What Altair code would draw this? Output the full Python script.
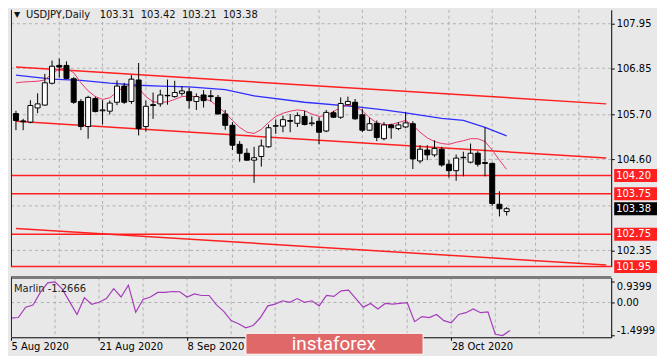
import altair as alt
import pandas as pd

# ---------------- data ----------------
symbol = "USDJPY"
timeframe = "Daily"

opens = [105.73, 105.55, 105.52, 105.87, 105.94, 106.48, 106.92, 106.92, 106.59, 106.03,
         105.41, 106.10, 105.80, 105.79, 106.01, 106.41, 106.03, 106.56, 105.41, 105.95,
         105.97, 106.18, 106.15, 106.23, 106.27, 106.03, 106.19, 106.17, 106.13, 105.72,
         105.44, 104.97, 104.75, 104.58, 104.67, 104.91, 105.43, 105.42, 105.56, 105.49,
         105.66, 105.48, 105.54, 105.30, 105.75, 105.64, 105.95, 106.01, 105.70, 105.32,
         105.49, 105.11, 105.45, 105.36, 105.40, 105.48, 104.56, 104.83, 104.71, 104.85,
         104.48, 104.32, 104.65, 104.53, 104.75, 104.52, 104.50, 103.49, 103.31]
highs = [105.80, 105.60, 106.06, 106.23, 106.71, 107.04, 107.09, 107.02, 106.63, 106.09,
         106.17, 106.15, 106.06, 106.05, 106.55, 106.49, 106.68, 106.98, 106.05, 106.25,
         106.32, 106.57, 106.54, 106.41, 106.37, 106.23, 106.31, 106.31, 106.19, 105.82,
         105.52, 105.05, 104.87, 104.91, 105.09, 105.46, 105.58, 105.68, 105.72, 105.76,
         105.80, 105.66, 105.64, 105.82, 105.80, 106.13, 106.15, 106.09, 105.85, 105.63,
         105.56, 105.52, 105.48, 105.52, 105.76, 105.54, 104.95, 104.95, 105.07, 104.91,
         104.58, 104.72, 104.79, 104.99, 104.80, 105.39, 104.52, 103.81, 103.42]
lows = [105.32, 105.32, 105.49, 105.74, 105.93, 106.45, 106.62, 106.58, 105.97, 105.32,
        105.11, 105.76, 105.46, 105.71, 105.94, 105.97, 105.97, 105.19, 105.29, 105.60,
        105.90, 105.95, 106.12, 106.17, 105.85, 105.82, 105.88, 106.03, 105.71, 105.33,
        104.83, 104.54, 104.57, 104.02, 104.42, 104.89, 105.23, 105.27, 105.27, 105.40,
        105.44, 105.42, 104.97, 105.27, 105.63, 105.60, 105.93, 105.58, 105.27, 105.30,
        105.05, 105.07, 105.11, 105.32, 105.37, 104.36, 104.50, 104.58, 104.66, 104.42,
        104.15, 104.07, 104.18, 104.50, 104.42, 104.18, 103.45, 103.19, 103.21]
closes = [105.56, 105.53, 105.93, 105.97, 106.49, 106.90, 106.88, 106.60, 106.01, 105.41,
          106.13, 105.78, 105.82, 105.99, 106.41, 106.01, 106.58, 105.36, 105.91, 105.93,
          106.19, 106.17, 106.25, 106.29, 106.05, 106.15, 106.05, 106.15, 105.72, 105.44,
          104.95, 104.75, 104.58, 104.64, 104.93, 105.38, 105.42, 105.58, 105.54, 105.68,
          105.46, 105.50, 105.27, 105.76, 105.64, 105.98, 106.03, 105.60, 105.32, 105.48,
          105.14, 105.45, 105.38, 105.45, 105.50, 104.61, 104.85, 104.71, 104.87, 104.46,
          104.32, 104.63, 104.64, 104.75, 104.48, 104.50, 103.51, 103.38, 103.38]

fast_ma = [106.49, 106.51, 106.52, 106.53, 106.56, 106.72, 106.83, 106.85, 106.74, 106.49,
           106.29, 106.15, 106.08, 106.12, 106.27, 106.39, 106.44, 106.36, 106.15, 106.02,
           106.01, 106.02, 106.08, 106.15, 106.16, 106.15, 106.10, 106.04, 105.90, 105.75,
           105.56, 105.39, 105.27, 105.24, 105.34, 105.51, 105.66, 105.74, 105.79, 105.82,
           105.80, 105.72, 105.66, 105.68, 105.78, 105.88, 105.94, 105.91, 105.80, 105.63,
           105.50, 105.46, 105.46, 105.51, 105.56, 105.44, 105.27, 105.13, 105.04, 104.99,
           104.97, 105.02, 105.06, 105.11, 105.11, 105.04, 104.83, 104.58, 104.35]

slow_ma_bars = [0, 5, 9, 13, 17, 20, 24, 29, 33, 40, 47, 51, 54, 59, 62, 65, 68]
slow_ma_vals = [106.68, 106.58, 106.55, 106.48, 106.43, 106.41, 106.39, 106.32, 106.17,
                106.01, 105.90, 105.82, 105.75, 105.61, 105.56, 105.39, 105.18]

marlin = [-0.71, -0.68, -0.21, -0.11, 0.46, 0.89, 0.9399, 0.61, 0.03, -0.54,
          0.22, -0.08, 0.01, 0.18, 0.63, 0.25, 0.79, -0.44, 0.14, 0.25,
          0.46, 0.46, 0.50, 0.49, 0.25, 0.39, 0.32, 0.32, -0.11, -0.40,
          -0.82, -0.96, -1.15, -1.04, -0.68, -0.15, -0.07, 0.08, 0.01, 0.18,
          0.01, 0.08, -0.15, 0.32, 0.28, 0.53, 0.56, 0.18, -0.21, -0.04,
          -0.29, -0.04, -0.07, -0.04, -0.01, -0.87, -0.64, -0.68, -0.54, -0.82,
          -0.92, -0.54, -0.46, -0.29, -0.46, -0.42, -1.44, -1.4999, -1.2666]

channel_names = ["upper", "middle", "lower"]
channel_bars = [0, 81.8]
channel_start = [106.88, 105.54, 102.89]
channel_end = [105.97, 104.63, 101.99]

level_prices = [104.20, 103.75, 102.75, 101.95]

price_labels = [107.95, 106.85, 105.70, 104.60, 102.35]
price_grid = [107.95, 106.85, 105.70, 104.60, 103.45, 102.35]
bar_grid = [6, 12, 18, 24, 30, 36, 42, 48, 54, 60, 66, 72, 78]
marlin_grid = [0.0]

# date labels visible in the reference (the ones under the watermark are hidden)
date_ticks = [0, 12, 24, 60]
date_labels = ["5 Aug 2020", "21 Aug 2020", "8 Sep 2020", "28 Oct 2020"]

watermark = "instaforex"

# ---------------- layout / style ----------------
W = 603
H_MAIN = 258
H_IND = 60
X_MAX = 81.8
Y_MIN, Y_MAX = 101.95, 108.294
M_LO, M_HI = -1.577, 1.133
FONT = "DejaVu Sans"
BG = "#e8e8e8"
GRID = "#b0b0b0"
RED = "#ff2020"
NB = "\u00a0"

bars = list(range(len(opens)))
candles = pd.DataFrame({"i": bars, "open": opens, "high": highs,
                        "low": lows, "close": closes})
fast_df = pd.DataFrame({"i": bars, "v": fast_ma})
slow_df = pd.DataFrame({"i": slow_ma_bars, "v": slow_ma_vals})
rows = []
for n, a, b in zip(channel_names, channel_start, channel_end):
    rows.append({"name": n, "i": channel_bars[0], "p": a})
    rows.append({"name": n, "i": channel_bars[1], "p": b})
chan_df = pd.DataFrame(rows)

xs = alt.Scale(domain=[0, X_MAX], nice=False, zero=False)
ys = alt.Scale(domain=[Y_MIN, Y_MAX], nice=False, zero=False)
y_axis = alt.Axis(orient="right", values=price_labels, format=".2f", grid=False,
                  tickSize=3, tickColor="#000", domainColor="#000",
                  labelFont=FONT, labelFontSize=10, labelColor="#000",
                  labelPadding=2, title=None)


def X(f):
    return alt.X(f, type="quantitative", scale=xs, axis=None)


def Y(f):
    return alt.Y(f, type="quantitative", scale=ys, axis=y_axis)


hgrid = alt.Chart(pd.DataFrame({"p": price_grid})).mark_rule(
    color=GRID, strokeDash=[3, 3], strokeWidth=1).encode(y=Y("p"))
vgrid = alt.Chart(pd.DataFrame({"i": bar_grid})).mark_rule(
    color=GRID, strokeDash=[3, 3], strokeWidth=1).encode(x=X("i"))
chan = alt.Chart(chan_df).mark_line(color=RED, strokeWidth=1.5).encode(
    x=X("i"), y=Y("p"), detail="name:N")
levels = alt.Chart(pd.DataFrame({"p": level_prices})).mark_rule(
    color=RED, strokeWidth=1.5).encode(y=Y("p"))
slow = alt.Chart(slow_df).mark_line(color="#2f2fff", strokeWidth=1.3).encode(
    x=X("i"), y=Y("v"))
fast = alt.Chart(fast_df).mark_line(color="#e8386a", strokeWidth=1).encode(
    x=X("i"), y=Y("v"))
wicks = alt.Chart(candles).mark_rule(color="#000", strokeWidth=1, clip=True).encode(
    x=X("i"), y=Y("low"), y2="high:Q")
bodies = alt.Chart(candles).mark_bar(size=5, stroke="#000", strokeWidth=1,
                                     clip=True, orient="vertical").encode(
    x=X("i"), y=Y("open"), y2="close:Q",
    fill=alt.condition("datum.close >= datum.open", alt.value("#ffffff"),
                       alt.value("#000000")))

half = 6.5 / (H_MAIN / (Y_MAX - Y_MIN))
lvl_box = alt.Chart(pd.DataFrame({"p": level_prices})).transform_calculate(
    lo=f"datum.p - {half}", hi=f"datum.p + {half}").mark_rect(color=RED).encode(
    x=alt.value(W + 3), x2=alt.value(W + 46), y=Y("lo"), y2="hi:Q")
lvl_txt = alt.Chart(pd.DataFrame({"p": level_prices})).transform_calculate(
    t="format(datum.p, '.2f')").mark_text(
    align="left", baseline="middle", color="#ffffff", font=FONT, fontSize=10).encode(
    x=alt.value(W + 5), y=Y("p"), text="t:N")
cur_df = pd.DataFrame({"p": [closes[-1]]})
cur_box = alt.Chart(cur_df).transform_calculate(
    lo=f"datum.p - {half}", hi=f"datum.p + {half}").mark_rect(color="#000").encode(
    x=alt.value(W + 3), x2=alt.value(W + 46), y=Y("lo"), y2="hi:Q")
cur_txt = alt.Chart(cur_df).transform_calculate(
    t="format(datum.p, '.2f')").mark_text(
    align="left", baseline="middle", color="#ffffff", font=FONT, fontSize=10).encode(
    x=alt.value(W + 5), y=Y("p"), text="t:N")

title = (f"{symbol},{timeframe}" + NB * 3 +
         (NB * 2).join(f"{v:.2f}" for v in (opens[-1], highs[-1], lows[-1], closes[-1])))
title_mark = alt.Chart(pd.DataFrame({"t": [title]})).mark_text(
    align="left", baseline="middle", font=FONT, fontSize=10, color="#111111").encode(
    x=alt.value(15), y=alt.value(5), text="t:N")
tri_mark = alt.Chart(pd.DataFrame({"t": ["\u25bc"]})).mark_text(
    align="left", baseline="middle", font=FONT, fontSize=8, color="#111111").encode(
    x=alt.value(3), y=alt.value(5), text="t:N")
left_border = alt.Chart(pd.DataFrame({"a": [0]})).mark_rule(color="#222").encode(
    x=alt.value(0.5), y=alt.value(0), y2=alt.value(H_MAIN))

main = alt.layer(hgrid, vgrid, chan, levels, slow, fast, wicks, bodies,
                 lvl_box, lvl_txt, cur_box, cur_txt, tri_mark, title_mark,
                 left_border).properties(width=W, height=H_MAIN)

# ---------------- indicator panel ----------------
ticks_js = "[" + ",".join(str(t) for t in date_ticks) + "]"
labels_js = "[" + ",".join(f"'{s}'" for s in date_labels) + "]"
x_axis = alt.Axis(values=date_ticks, labelExpr=f"{labels_js}[indexof({ticks_js}, datum.value)]",
                  labelAlign="left", labelFlush=False, labelOverlap=False,
                  tickSize=3, tickColor="#000", domainColor="#000",
                  labelFont=FONT, labelFontSize=10, labelColor="#000",
                  labelPadding=1, grid=False, title=None)
xs2 = alt.Scale(domain=[0, X_MAX], nice=False, zero=False)
ms = alt.Scale(domain=[M_LO, M_HI], nice=False, zero=False)
m_axis = alt.Axis(orient="right", values=[max(marlin), 0.0, min(marlin)],
                  labelExpr="datum.value == 0 ? '0.00' : (datum.value < 0 ? '-' : '') + format(abs(datum.value), '.4f')",
                  labelOffset={"condition": [{"test": "datum.value > 0.5", "value": 5},
                                             {"test": "datum.value < -1", "value": -5}],
                               "value": 0},
                  grid=False, tickSize=3, tickColor="#000", domainColor="#000",
                  labelFont=FONT, labelFontSize=10, labelColor="#000",
                  labelPadding=2, title=None)


def X2(f):
    return alt.X(f, type="quantitative", scale=xs2, axis=x_axis)


def M(f):
    return alt.Y(f, type="quantitative", scale=ms, axis=m_axis)


ind_df = pd.DataFrame({"i": bars, "m": marlin})
ivgrid = alt.Chart(pd.DataFrame({"i": bar_grid})).mark_rule(
    color=GRID, strokeDash=[3, 3], strokeWidth=1).encode(x=X2("i"))
ihgrid = alt.Chart(pd.DataFrame({"m": marlin_grid})).mark_rule(
    color=GRID, strokeDash=[3, 3], strokeWidth=1).encode(y=M("m"))
mline = alt.Chart(ind_df).mark_line(color="#a43cbc", strokeWidth=1.2).encode(
    x=X2("i"), y=M("m"))
band = alt.Chart(pd.DataFrame({"a": [0]})).mark_rule(color="#7c7c7c", strokeWidth=3).encode(
    y=alt.value(0))
ileft = alt.Chart(pd.DataFrame({"a": [0]})).mark_rule(color="#222").encode(
    x=alt.value(0.5), y=alt.value(0), y2=alt.value(H_IND))
mtxt = alt.Chart(pd.DataFrame({"t": [f"Marlin {marlin[-1]:.4f}"]})).mark_text(
    align="left", baseline="middle", font=FONT, fontSize=10, color="#222").encode(
    x=alt.value(3), y=alt.value(12), text="t:N")
logo_box = alt.Chart(pd.DataFrame({"a": [0]})).mark_rect(
    color="#e06868", stroke="#ffffff", strokeWidth=1).encode(
    x=alt.value(236), x2=alt.value(414), y=alt.value(56), y2=alt.value(77))
logo_txt = alt.Chart(pd.DataFrame({"t": [watermark]})).mark_text(
    align="left", baseline="middle", font="Roboto", fontSize=19, color="#ffffff").encode(
    x=alt.value(282), y=alt.value(67), text="t:N")

ind = alt.layer(ivgrid, ihgrid, mline, band, ileft, mtxt, logo_box, logo_txt).properties(
    width=W, height=H_IND)

chart = alt.vconcat(main, ind, spacing=2).configure_view(strokeWidth=0).properties(
    background=BG, padding={"left": 0, "top": 0, "right": 0, "bottom": 0})

chart.save("out.html", embed_options={"renderer": "svg", "actions": False})
